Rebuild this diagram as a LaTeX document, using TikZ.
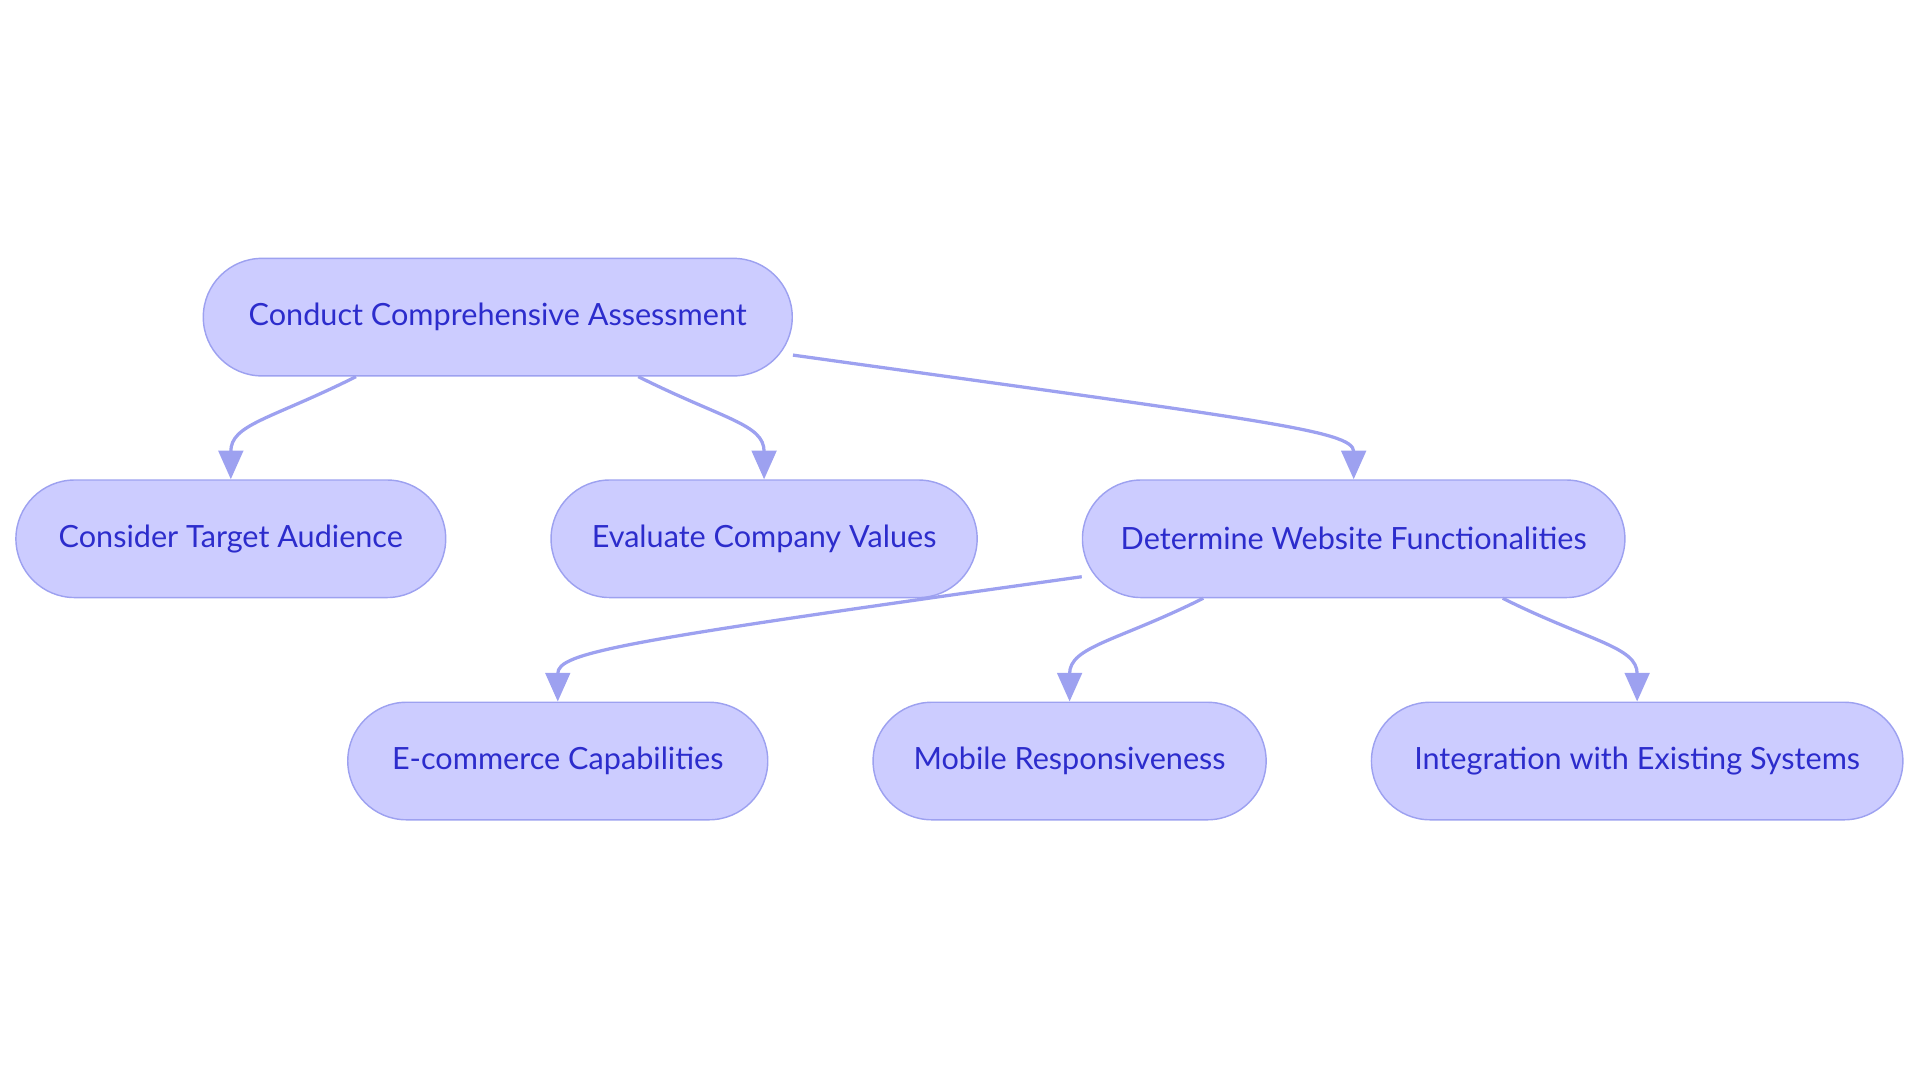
\documentclass[tikz,border=0pt]{standalone}
\usepackage{fontspec}
\setmainfont{Lato}
\usetikzlibrary{arrows.meta,calc}
\definecolor{boxfill}{RGB}{204,204,255}
\definecolor{boxline}{RGB}{157,161,240}
\definecolor{boxtext}{RGB}{44,44,204}
\tikzstyle{stage}=[rectangle,rounded corners=28.8pt,fill=boxfill,draw=boxline,line width=0.7pt,text=boxtext,minimum height=57.6pt,inner sep=0pt,font=\fontsize{15}{18}\selectfont]
\tikzstyle{flow}=[draw=boxline,line width=1.6pt,-{Triangle[length=14pt,width=12pt]}]
\begin{document}
\begin{tikzpicture}[x=0.6pt,y=-0.6pt]
\useasboundingbox (0,0) rectangle (1568,884.5);
\node[stage,minimum width=288.6pt] (assess) at (406.5,259) {Conduct Comprehensive Assessment};
\node[stage,minimum width=210.6pt] (audience) at (188.5,440) {Consider Target Audience};
\node[stage,minimum width=208.8pt] (values) at (624,440) {Evaluate Company Values};
\node[stage,minimum width=265.8pt] (functions) at (1105.5,440) {Determine Website Functionalities};
\node[stage,minimum width=205.8pt] (ecommerce) at (455.5,621.5) {E-commerce Capabilities};
\node[stage,minimum width=192.6pt] (mobile) at (873.5,621.5) {Mobile Responsiveness};
\node[stage,minimum width=260.4pt] (systems) at (1337,621.5) {Integration with Existing Systems};
\coordinate (a1) at ($(assess.south west)!0.26!(assess.south east)$);
\coordinate (a2) at ($(assess.south west)!0.738!(assess.south east)$);
\coordinate (a3) at ($(assess.east)+(0,31)$);
\coordinate (f1) at ($(functions.west)+(0,31)$);
\coordinate (f2) at ($(functions.south west)!0.2235!(functions.south east)$);
\coordinate (f3) at ($(functions.south west)!0.774!(functions.south east)$);
\draw[flow] (a1) .. controls +(-70,35) and +(0,-45) .. (audience.north);
\draw[flow] (a2) .. controls +(70,35) and +(0,-45) .. (values.north);
\draw[flow] (a3) .. controls +(380,53) and +(0,-40) .. (functions.north);
\draw[flow] (f1) .. controls +(-380,53) and +(0,-40) .. (ecommerce.north);
\draw[flow] (f2) .. controls +(-70,35) and +(0,-45) .. (mobile.north);
\draw[flow] (f3) .. controls +(70,35) and +(0,-45) .. (systems.north);
\end{tikzpicture}
\end{document}
